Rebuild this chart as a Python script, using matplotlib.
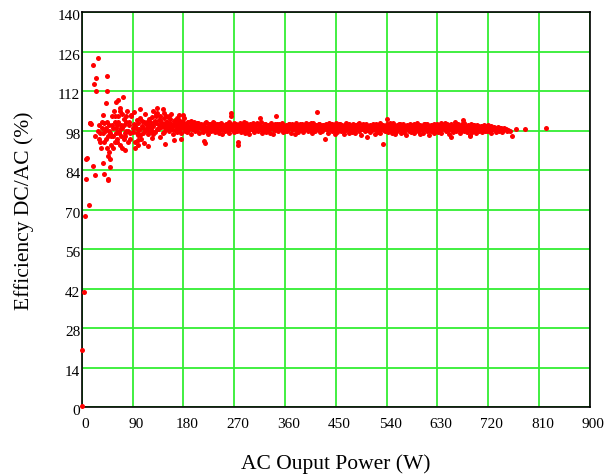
import numpy as np
import matplotlib.pyplot as plt
import matplotlib.transforms as mtransforms

# values
# low-power region (0-90 W), large scatter
x_low = [0, 0, 3, 5, 7, 8, 9, 12, 14, 15, 17, 19, 19, 21, 23, 24, 26, 26, 28, 29,
         30, 31, 32, 33, 34, 35, 36, 37, 38, 38, 39, 40, 40, 41, 42, 43, 44, 45, 45, 46,
         46, 47, 47, 48, 49, 50, 50, 51,
         52, 54, 55, 56, 57, 58, 59, 60, 61, 62, 63, 64, 65, 66, 67, 68, 69, 70, 71, 72,
         73, 74, 75, 76, 77, 78, 79, 80, 82, 84, 86, 88, 90,
         42, 44, 48, 50, 53, 55, 58, 60, 62, 64, 66, 68, 70, 72, 74, 76, 78, 81, 83, 85]
y_low = [0.6, 20.3, 40.8, 67.6, 80.8, 88, 88.4, 71.6, 100.7, 100.7, 100.5, 121.1, 85.5, 114.6, 82.2, 96, 116.5, 112, 123.8, 98,
         100, 95, 94, 97, 92, 101, 99, 103.4, 86.5, 97, 100.7, 82.5, 94, 98, 107.8, 99, 92, 117.3, 112, 80.8,
         96, 80.5, 89, 100, 90.4, 85, 97, 93,
         96, 103, 92, 99, 105, 94, 101, 97, 108, 95, 100, 103, 109, 98, 93, 106, 100, 96, 104, 99,
         110, 95, 102, 97, 91, 101, 98, 105, 94, 100, 97, 103, 99,
         95, 101, 98, 88, 100, 96, 103, 99, 94, 101, 97, 105, 99, 92, 100, 96, 103, 98, 101, 95]

# main band (90-830 W)
x_band = [91, 93, 95, 96, 98, 100, 101, 103, 105, 106, 108, 110, 111, 113, 115, 117, 118, 120,
          121, 123, 124, 126, 127, 129, 130, 132, 133, 135, 136, 138, 139, 141, 142, 144, 145, 147, 148, 150,
          151, 152, 154, 155, 157, 158, 160, 161, 163, 164, 166, 167, 169, 170, 172, 173, 175, 176, 178, 179,
          180, 181, 183, 184, 186, 187, 189, 190, 192, 193, 195, 196, 198, 199, 201, 202, 204, 205, 207, 209,
          211, 212, 214, 216, 217, 219, 220, 222, 224, 225, 227, 229, 230, 232, 234, 236, 237, 239,
          241, 243, 244, 246, 248, 249, 251, 253, 254, 256, 258, 260, 261, 263, 265, 266, 268, 270,
          271, 273, 274, 276, 278, 280, 281, 283, 285, 287, 288, 290, 292, 294, 295, 297, 299,
          301, 303, 305, 306, 308, 310, 312, 314, 316, 317, 319, 321, 323, 325, 327, 328,
          331, 333, 335, 337, 339, 341, 342, 345, 346, 348, 350, 352, 354, 356, 358, 360,
          362, 364, 366, 368, 370, 372, 374, 376, 378, 380, 382, 384, 386, 388, 390,
          392, 394, 396, 398, 400, 402, 404, 406, 408, 410, 412, 414, 416, 418, 420,
          422, 424, 426, 428, 431, 433, 435, 437, 439, 441, 443, 445, 447, 449,
          451, 453, 455, 457, 459, 461, 463, 465, 467, 469, 471, 473, 475, 477, 479,
          481, 483, 485, 487, 489, 491, 493, 495, 497, 499, 501, 503, 505, 507, 509,
          511, 513, 515, 517, 519, 521, 523, 525, 527, 529, 531, 533, 535, 537, 539,
          541, 543, 545, 547, 549, 551, 553, 555, 557, 559, 561, 563, 565, 567, 569,
          571, 573, 575, 577, 579, 581, 583, 585, 587, 589, 591, 593, 595, 597, 599,
          601, 603, 605, 607, 609, 611, 613, 615, 617, 619, 621, 623, 625, 627, 629,
          631, 633, 635, 637, 639, 641, 643, 645, 647, 649, 651, 653, 654, 656, 658, 660,
          662, 664, 666, 668, 670, 672, 675, 677, 679, 681, 683, 685, 688, 688, 690,
          692, 694, 696, 698, 700, 702, 704, 706, 708, 710, 712, 714, 716, 718, 720,
          722, 724, 726, 729, 731, 734, 736, 739, 741, 744, 747, 750, 753, 756, 758, 761.6,
          770, 785, 823]
y_band = [97.5, 100.2, 94.1, 99.0, 101.8, 96.3, 98.7, 102.5, 95.2, 99.8, 97.0, 100.9, 93.6, 98.2, 101.2, 96.8, 99.5, 97.9,
          100.5, 98.1, 102.9, 96.9, 99.6, 101.4, 97.6, 100.8, 104.1, 98.4, 99.9, 95.8, 101.7, 99.2, 100.6, 97.3, 102.3, 99.0, 100.1, 98.6,
          101.0, 99.3, 97.8, 100.4, 102.0, 98.8, 99.7, 96.7, 101.3, 99.9, 98.2, 100.7, 97.4, 99.5, 101.9, 98.9, 100.2, 97.0, 99.4, 100.9,
          103.6, 99.1, 98.0, 100.5, 97.6, 99.8, 101.2, 98.5, 99.6, 96.9, 100.3, 98.7, 99.9, 101.0, 97.8, 99.2, 98.4, 100.6, 97.2, 99.5,
          98.9, 100.4, 97.4, 94.4, 99.7, 98.2, 101.1, 98.8, 96.8, 99.6, 100.2, 97.9, 99.0, 98.3, 100.8, 97.5, 99.4, 98.6,
          99.8, 97.2, 100.5, 98.4, 99.1, 96.7, 100.0, 98.9, 97.7, 99.5, 98.1, 100.9, 97.3, 99.2, 104.2, 98.5, 99.9, 97.6,
          98.8, 100.3, 97.9, 93.9, 99.4, 98.2, 100.6, 97.5, 99.0, 98.6, 101.0, 97.1, 99.7, 98.0, 100.1, 96.9, 99.3,
          98.4, 100.2, 97.4, 99.6, 98.1, 100.8, 97.8, 99.1, 102.6, 98.7, 97.0, 99.8, 98.3, 100.4, 97.6, 99.2,
          98.6, 97.3, 100.0, 98.9, 96.8, 99.5, 98.2, 103.2, 100.5, 97.7, 99.0, 98.4, 100.1, 97.5, 99.3, 98.0,
          99.7, 97.8, 98.9, 100.3, 97.2, 99.1, 98.5, 100.0, 96.9, 98.7, 99.6, 97.6, 100.4, 98.2, 99.0,
          97.4, 99.8, 98.6, 100.1, 97.9, 99.2, 98.3, 100.6, 97.1, 98.9, 99.5, 97.7, 104.6, 98.4, 100.2,
          97.6, 99.3, 98.0, 100.0, 94.9, 98.7, 99.6, 97.3, 98.8, 100.4, 97.9, 99.1, 98.2, 96.9,
          99.4, 97.5, 98.6, 100.2, 97.8, 99.0, 98.3, 96.7, 99.7, 98.1, 100.0, 97.2, 98.9, 99.5, 97.6,
          98.4, 99.8, 97.0, 98.7, 100.3, 97.9, 99.1, 96.5, 98.5, 99.6, 97.7, 98.8, 95.9, 99.3, 98.1,
          97.4, 99.0, 98.3, 100.1, 96.8, 98.6, 99.4, 97.6, 98.9, 97.1, 99.7, 93.3, 98.2, 97.8, 99.2,
          102.2, 97.5, 98.7, 100.6, 97.2, 99.0, 98.1, 96.9, 99.5, 97.8, 98.6, 100.2, 97.0, 98.9, 99.8,
          97.6, 98.8, 96.6, 99.3, 98.0, 100.0, 97.4, 98.7, 99.9, 97.1, 98.4, 99.6, 97.8, 98.9, 96.9,
          98.5, 99.7, 97.3, 98.9, 100.5, 97.7, 98.2, 96.3, 99.1, 97.9, 98.6, 100.0, 97.2, 98.8, 99.4,
          97.5, 98.4, 99.6, 97.0, 98.7, 99.9, 100.8, 97.8, 98.3, 99.2, 96.9, 98.6, 95.7, 99.5, 97.6, 98.9,
          101.2, 97.9, 98.5, 99.4, 97.3, 98.8, 101.6, 97.7, 99.0, 98.1, 97.4, 99.3, 96.0, 96.5, 98.2,
          97.6, 99.1, 98.4, 97.0, 98.9, 99.6, 97.8, 98.3, 99.2, 97.4, 98.7, 98.0, 99.5, 97.7, 98.6,
          97.9, 98.8, 97.3, 98.5, 99.1, 97.6, 98.4, 97.9, 98.8, 97.5, 98.2, 98.6, 97.8, 98.3, 98.0, 96.2,
          98.4, 98.4, 98.9]

# second pass over the band: the upper half is denser in the picture
x_band2 = [94, 97, 99, 102, 104, 107, 109, 112, 114, 116, 119, 122, 125, 128, 131, 134, 137, 140, 143, 146,
           149, 153, 156, 159, 162, 165, 168, 171, 174, 177, 182, 185, 188, 191, 194, 197, 200, 203, 206, 208,
           210, 213, 215, 218, 221, 223, 226, 228, 231, 233, 235, 238, 240, 242, 245, 247, 250, 252, 255, 257,
           259, 262, 264, 267, 269, 272, 275, 277, 279, 282, 284, 286, 289, 291, 293, 296, 298, 300, 302, 304,
           307, 309, 311, 313, 315, 318, 320, 322, 324, 326, 329, 330, 332, 334, 336, 338, 340, 343, 344, 347,
           349, 351, 353, 355, 357, 359, 361, 363, 365, 367, 369, 371, 373, 375, 377, 379, 381, 383, 385, 387,
           389, 391, 393, 395, 397, 399, 401, 403, 405, 407, 409, 411, 413, 415, 417, 419, 421, 423, 425, 427,
           429, 430, 432, 434, 436, 438, 440, 442, 444, 446, 448, 450, 452, 454, 456, 458, 460, 462, 464, 466,
           468, 470, 472, 474, 476, 478, 480, 482, 484, 486, 488, 490, 492, 494, 496, 498, 500, 502, 504, 506,
           508, 510, 512, 514, 516, 518, 520, 522, 524, 526, 528, 530, 532, 534, 536, 538, 540, 542, 544, 546,
           548, 550, 552, 554, 556, 558, 560, 562, 564, 566, 568, 570, 572, 574, 576, 578, 580, 582, 584, 586,
           588, 590, 592, 594, 596, 598, 600, 602, 604, 606, 608, 610, 612, 614, 616, 618, 620, 622, 624, 626,
           628, 630, 632, 634, 636, 638, 640, 642, 644, 646, 648, 650, 652, 655, 657, 659, 661, 663, 665, 667,
           669, 671, 673, 674, 676, 678, 680, 682, 684, 686, 687, 689, 691, 693, 695, 697, 699, 701, 703, 705,
           707, 709, 711, 713, 715, 717, 719, 721, 723, 725, 727, 730, 733, 735, 738, 740, 743, 746, 749, 752,
           92, 99, 104, 112, 118, 127, 134, 139, 145, 152, 158, 163, 168, 172, 176, 120, 125, 147, 150, 170,
           88, 94, 131, 144, 154, 181, 218, 265, 277, 100]
y_band2 = [99.6, 97.2, 100.8, 98.3, 96.4, 101.5, 99.1, 97.7, 100.3, 98.8, 102.1, 99.4, 97.9, 100.9, 103.2, 98.5, 101.6, 99.8, 100.4, 97.6,
           101.2, 99.6, 100.7, 98.4, 100.1, 101.8, 99.2, 100.5, 98.7, 101.1, 100.0, 98.6, 100.9, 99.4, 101.4, 99.0, 100.3, 98.2, 100.7, 99.5,
           100.0, 98.6, 99.9, 100.6, 97.9, 99.3, 100.4, 98.7, 99.8, 100.9, 98.4, 99.6, 100.2, 97.8, 99.9, 100.7, 98.5, 99.4, 100.3, 98.9,
           99.7, 100.5, 98.6, 99.3, 100.8, 99.0, 97.9, 100.1, 98.8, 99.6, 100.4, 98.3, 99.5, 100.6, 98.9, 99.8, 100.2, 98.5, 99.4, 100.7,
           98.7, 99.9, 100.3, 98.4, 99.6, 100.9, 98.9, 99.3, 100.5, 98.2, 99.7, 100.1, 98.8, 99.5, 100.6, 98.5, 99.9, 100.2, 98.7, 99.4,
           100.4, 98.9, 99.6, 100.7, 98.4, 99.8, 100.1, 98.6, 99.4, 100.5, 98.8, 99.9, 100.3, 98.5, 99.7, 100.8, 98.3, 99.5, 100.0, 98.9,
           99.6, 100.4, 98.7, 99.3, 100.6, 98.8, 99.9, 100.2, 98.4, 99.5, 100.7, 98.9, 99.4, 100.1, 98.6, 99.8, 100.5, 98.3, 99.6, 100.0,
           98.8, 99.7, 100.3, 98.5, 99.4, 100.6, 98.7, 99.9, 100.2, 98.4, 99.6, 100.8, 98.9, 99.3, 100.4, 98.6, 99.8, 100.1, 98.3, 99.5,
           100.6, 98.8, 99.7, 100.3, 98.5, 99.4, 100.5, 98.7, 99.9, 100.0, 98.4, 99.6, 100.7, 98.9, 99.3, 100.2, 98.6, 99.8, 100.4, 98.3,
           99.5, 100.1, 98.8, 99.7, 100.5, 98.5, 99.4, 100.3, 98.7, 99.9, 100.6, 98.4, 99.6, 100.0, 98.9, 99.3, 100.4, 98.6, 99.8, 100.2,
           98.3, 99.5, 100.6, 98.8, 99.7, 100.1, 98.5, 99.4, 100.3, 98.7, 99.9, 100.5, 98.4, 99.6, 100.0, 98.9, 99.3, 100.4, 98.6, 99.8,
           100.2, 98.3, 99.5, 100.6, 98.8, 99.7, 100.1, 98.5, 99.4, 100.3, 98.7, 99.9, 100.5, 98.4, 99.6, 100.0, 98.9, 99.3, 100.4, 98.6,
           99.8, 100.2, 98.3, 99.5, 100.6, 98.8, 99.7, 100.1, 98.5, 99.4, 100.3, 98.7, 99.9, 100.5, 98.4, 99.6, 100.0, 98.9, 99.3, 100.4,
           98.6, 99.8, 100.2, 98.3, 99.5, 100.6, 98.8, 99.7, 100.1, 98.5, 99.4, 100.3, 98.7, 99.9, 100.0, 98.4, 99.6, 99.9, 98.9, 99.3,
           99.8, 98.6, 99.5, 100.0, 98.8, 99.4, 99.9, 98.5, 99.2, 99.7, 98.7, 99.3, 99.0, 98.6, 99.4, 98.9, 99.1, 98.5, 99.0, 98.7,
           104.5, 92.8, 105.6, 103.8, 92.5, 104.9, 106.0, 103.0, 104.4, 102.8, 104.0, 94.5, 102.6, 103.5, 95.0, 101.0, 95.5, 93.2, 103.0, 101.5,
           103.7, 92.0, 104.0, 105.5, 103.0, 102.6, 93.6, 103.0, 93.0, 94.5]

x_ticks = [0, 90, 180, 270, 360, 450, 540, 630, 720, 810, 900]
y_ticks = [0, 14, 28, 42, 56, 70, 84, 98, 112, 126, 140]

plt.rcParams['font.family'] = ['Liberation Serif', 'DejaVu Serif']

fig = plt.figure(figsize=(6.06, 4.77), dpi=100)
ax = fig.add_axes([0.135, 0.144, 0.838, 0.8287])

xs = x_low + x_band + x_band2
ys = y_low + y_band + y_band2
ax.plot(xs, ys, 'o', color='#ff0000', ms=3.6, mew=0, clip_on=False, zorder=3)

ax.set_xlim(0, 900)
ax.set_ylim(0, 140)
ax.set_xticks(x_ticks)
ax.set_yticks(y_ticks)
ax.grid(True, color='#33ee33', lw=1.3)
ax.set_axisbelow(True)
ax.tick_params(length=0, labelsize=11)
ax.tick_params(axis='x', pad=7)
ax.tick_params(axis='y', pad=1)
for s in ax.spines.values():
    s.set_color('black')
    s.set_linewidth(1.2)

# y labels sit a little below their grid lines, x labels a little right
shift_y = mtransforms.ScaledTranslation(0, -0.02, fig.dpi_scale_trans)
for lab in ax.get_yticklabels():
    lab.set_transform(lab.get_transform() + shift_y)
shift_x = mtransforms.ScaledTranslation(0.035, 0, fig.dpi_scale_trans)
for lab in ax.get_xticklabels():
    lab.set_transform(lab.get_transform() + shift_x)

ax.set_xlabel("AC Ouput Power (W)", fontsize=15.5, labelpad=17)
ax.set_ylabel("Efficiency DC/AC (%)", fontsize=15.5, labelpad=17)

plt.savefig('out.png', dpi=100)
